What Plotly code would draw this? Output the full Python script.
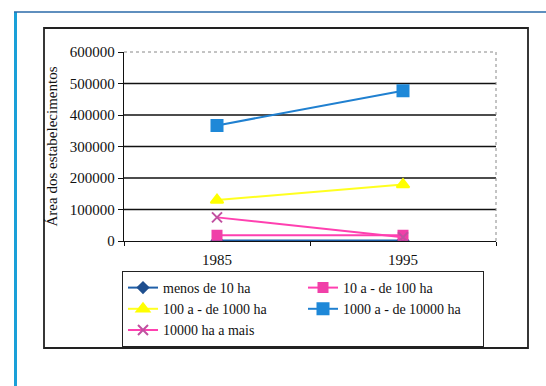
import plotly.graph_objects as go

# Área dos estabelecimentos por grupo de área
anos = ["1985", "1995"]
menos_10 = [1500, 1500]
de_10_a_100 = [18000, 18000]
de_100_a_1000 = [130000, 179000]
de_1000_a_10000 = [367000, 477000]
mais_10000 = [75000, 12000]

y_ticks = [0, 100000, 200000, 300000, 400000, 500000, 600000]

series = [
    ("menos de 10 ha", menos_10, "#1f5fa8", "#1f4f8f", "diamond", 8),
    ("10 a - de 100 ha", de_10_a_100, "#ff3fb0", "#f040a8", "square", 9),
    ("100 a - de 1000 ha", de_100_a_1000, "#ffff20", "#ffff00", "triangle-up", 11),
    ("1000 a - de 10000 ha", de_1000_a_10000, "#2080d0", "#1e88d8", "square", 11),
    ("10000 ha a mais", mais_10000, "#ff40b0", "#c050a0", "x-thin", 10),
]

serif = "Liberation Serif"

fig = go.Figure()
for nome, vals, cor_linha, cor_marca, simbolo, tam in series:
    fig.add_trace(go.Scatter(
        x=anos, y=vals, name=nome, mode="lines+markers",
        line=dict(color=cor_linha, width=2),
        marker=dict(symbol=simbolo, size=tam, color=cor_marca,
                    line=dict(color=cor_marca, width=2)),
    ))

# horizontal gridlines between the axis line and the dotted top border
shapes = []
for v in y_ticks[1:-1]:
    shapes.append(dict(type="line", xref="paper", yref="y", x0=0, x1=1, y0=v, y1=v,
                       line=dict(color="#111111", width=1.3), layer="below"))
# plot area border (top and right, dotted grey)
shapes.append(dict(type="line", xref="paper", yref="paper", x0=0, x1=1, y0=1, y1=1,
                   line=dict(color="#888888", width=1, dash="dot")))
shapes.append(dict(type="line", xref="paper", yref="paper", x0=1, x1=1, y0=0, y1=1,
                   line=dict(color="#888888", width=1, dash="dot")))
# chart frame
PW, PH = 546, 386
L, R, T, B = 124, 50, 52, 145
w, h = PW - L - R, PH - T - B


def px_x(px):
    return (px - L) / w


def px_y(py):
    return (PH - B - py) / h


shapes.append(dict(type="rect", xref="paper", yref="paper",
                   x0=px_x(44), x1=px_x(528), y0=px_y(348), y1=px_y(28),
                   line=dict(color="#222222", width=1.8)))
# outer blue page border
shapes.append(dict(type="line", xref="paper", yref="paper",
                   x0=px_x(15.5), x1=px_x(15.5), y0=px_y(12), y1=px_y(390),
                   line=dict(color="#1aa0d8", width=3)))
shapes.append(dict(type="line", xref="paper", yref="paper",
                   x0=px_x(14), x1=px_x(550), y0=px_y(12), y1=px_y(12),
                   line=dict(color="#2a6aa8", width=1.5)))

fig.update_layout(
    width=PW, height=PH,
    margin=dict(l=L, r=R, t=T, b=B),
    paper_bgcolor="white", plot_bgcolor="white",
    font=dict(family=serif, size=15, color="#111111"),
    showlegend=True,
    legend=dict(
        orientation="h", x=px_x(122), y=px_y(271), xanchor="left", yanchor="top",
        xref="paper", yref="paper",
        bordercolor="#222222", borderwidth=1, bgcolor="white",
        font=dict(family=serif, size=14, color="#111111"),
        entrywidth=135, itemwidth=30, tracegroupgap=0,
    ),
    xaxis=dict(
        type="category", range=[-0.5, 1.5],
        showgrid=False, showline=True, linecolor="#111111", linewidth=1.3,
        ticks="outside", tickson="boundaries", ticklen=4, tickcolor="#111111",
        ticklabelstandoff=5,
        tickfont=dict(family=serif, size=15),
    ),
    yaxis=dict(
        range=[0, 600000], tickvals=y_ticks, ticktext=[str(v) for v in y_ticks],
        showgrid=False, zeroline=False, showline=True, linecolor="#111111", linewidth=1.3,
        ticks="outside", ticklen=5, tickcolor="#111111",
        tickfont=dict(family=serif, size=15),
        title=dict(text="Área dos estabelecimentos", standoff=8,
                   font=dict(family=serif, size=15)),
    ),
    shapes=shapes,
)

fig.write_html("out.html")
